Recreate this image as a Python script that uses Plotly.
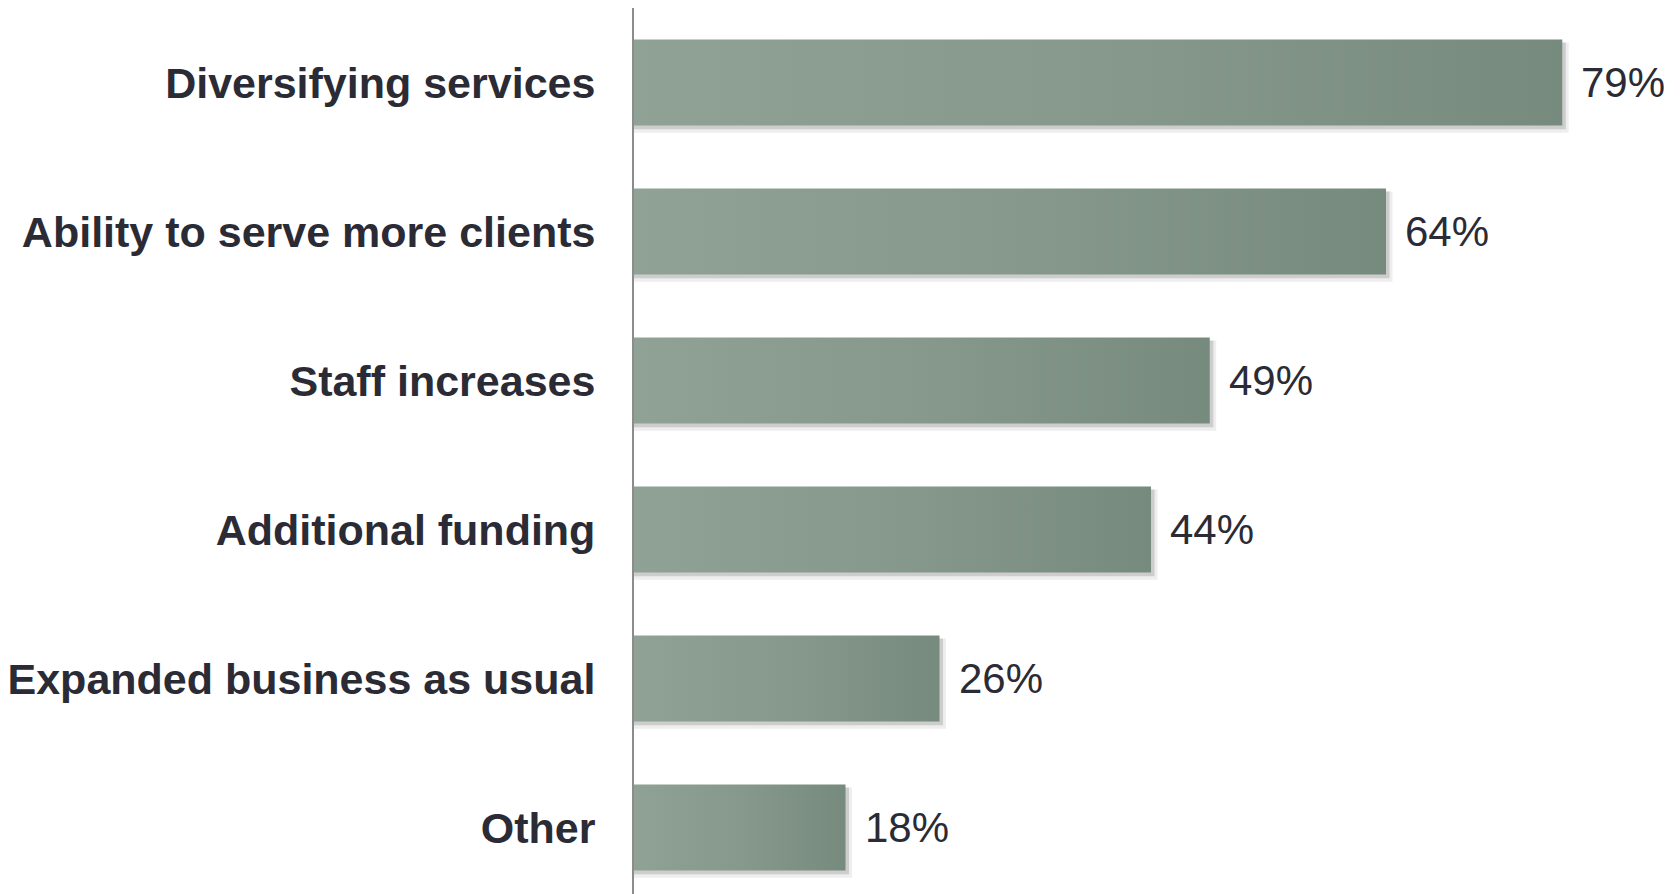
import plotly.graph_objects as go

# survey answers, top to bottom
categories = [
    "Diversifying services",
    "Ability to serve more clients",
    "Staff increases",
    "Additional funding",
    "Expanded business as usual",
    "Other",
]
values = [79, 64, 49, 44, 26, 18]
value_labels = ["79%", "64%", "49%", "44%", "26%", "18%"]

n = len(categories)
half = 0.288  # half bar thickness (y units)
positions = [n - 1 - i for i in range(n)]

fig = go.Figure()

for pos, v in zip(positions, values):
    # soft drop shadow, two layers
    for dx, dy, alpha in [(0.55, 0.05, 0.08), (0.3, 0.025, 0.16)]:
        fig.add_trace(go.Scatter(
            x=[0, v + dx, v + dx, 0, 0],
            y=[pos - half - dy, pos - half - dy, pos + half - 0.02, pos + half - 0.02, pos - half - dy],
            mode="lines", line=dict(width=0), fill="toself",
            fillcolor=f"rgba(40,40,40,{alpha})", hoverinfo="skip", showlegend=False,
        ))
    # bar with left-to-right gradient
    fig.add_trace(go.Scatter(
        x=[0, v, v, 0, 0],
        y=[pos - half, pos - half, pos + half, pos + half, pos - half],
        mode="lines", line=dict(width=0), fill="toself",
        fillgradient=dict(type="horizontal",
                          colorscale=[[0, "#90a196"], [0.5, "#86998c"], [1, "#778a7e"]]),
        hoverinfo="skip", showlegend=False,
    ))

for pos, v, lab in zip(positions, values, value_labels):
    fig.add_annotation(
        x=v, y=pos, text=lab, showarrow=False,
        xanchor="left", yanchor="middle", xshift=17,
        font=dict(family="Liberation Sans, Arial, sans-serif", size=42, color="#2b2b35"),
    )

fig.update_layout(
    width=1680, height=894,
    margin=dict(l=621, r=0, t=0, b=0),
    plot_bgcolor="white", paper_bgcolor="white",
    xaxis=dict(range=[0, 89.7], visible=False),
    yaxis=dict(
        range=[-0.5, 5.5], tickvals=positions, ticktext=categories,
        showgrid=False, zeroline=False, ticks="",
        showline=True, linecolor="#8c8c8c", linewidth=2,
        ticklabelstandoff=28,
        tickfont=dict(family="Liberation Sans, Arial, sans-serif", size=43,
                      color="#2b2b35", weight="bold"),
    ),
)

fig.write_html("out.html")
